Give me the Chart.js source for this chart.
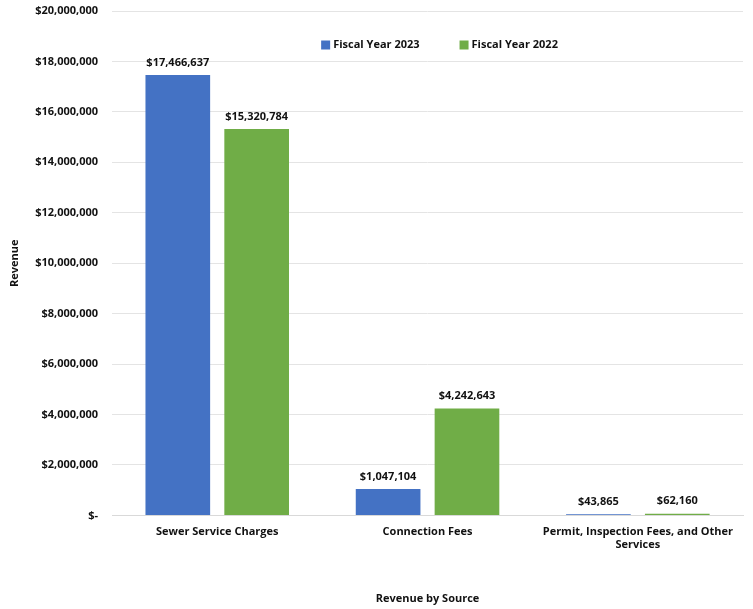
<!DOCTYPE html>
<html>
<head>
<meta charset="utf-8">
<script src="https://cdn.jsdelivr.net/npm/chart.js@4"></script>
<style>
  html, body { margin: 0; padding: 0; background: #fff; }
  #wrap { width: 753px; height: 609px; }
</style>
</head>
<body>
<div id="wrap"><canvas id="revChart"></canvas></div>
<script>
// DATA
let categories = ['Sewer Service Charges', 'Connection Fees', ['Permit, Inspection Fees, and Other', 'Services']];
let fy2023 = [17466637, 1047104, 43865];
let fy2022 = [15320784, 4242643, 62160];
let seriesLabels = ['Fiscal Year 2023', 'Fiscal Year 2022'];

let blue = '#4472C4', green = '#70AD47';
let fontFam = "'Open Sans', 'Noto Sans', sans-serif";

function money(v) {
    if (v === 0) return '$-';
    return '$' + v.toLocaleString('en-US');
}

// labels on top of bars
let barLabels = {
    id: 'barLabels',
    afterDatasetsDraw(chart) {
        let ctx = chart.ctx;
        ctx.save();
        ctx.font = 'bold 11px ' + fontFam;
        ctx.fillStyle = '#111';
        ctx.textAlign = 'center';
        ctx.textBaseline = 'bottom';
        chart.data.datasets.forEach((ds, i) => {
            chart.getDatasetMeta(i).data.forEach((bar, j) => {
                ctx.fillText(money(ds.data[j]), bar.x, bar.y - 7);
            });
        });
        ctx.restore();
    }
};

// legend drawn inside the plot, like the excel one
let innerLegend = {
    id: 'innerLegend',
    afterDraw(chart) {
        let ctx = chart.ctx;
        let area = chart.chartArea;
        ctx.save();
        ctx.font = 'bold 11px ' + fontFam;
        ctx.textBaseline = 'middle';
        let box = 9, gap = 3, itemGap = 40;
        let items = chart.data.datasets.map(ds => ({
            text: ds.label, color: ds.backgroundColor, w: ctx.measureText(ds.label).width
        }));
        let total = items.reduce((s, it) => s + box + gap + it.w, 0) + itemGap * (items.length - 1);
        let x = (area.left + area.right) / 2 + 12 - total / 2;
        let y = area.top + 34;
        items.forEach(it => {
            ctx.fillStyle = it.color;
            ctx.fillRect(x, y - box / 2, box, box);
            ctx.fillStyle = '#111';
            ctx.fillText(it.text, x + box + gap, y);
            x += box + gap + it.w + itemGap;
        });
        ctx.restore();
    }
};

let ctx = document.getElementById('revChart').getContext('2d');
let revChart = new Chart(ctx, {
    type: 'bar',
    data: {
        labels: categories,
        datasets: [{
            label: seriesLabels[0],
            data: fy2023,
            backgroundColor: blue,
            categoryPercentage: 0.75,
            barPercentage: 0.82
        }, {
            label: seriesLabels[1],
            data: fy2022,
            backgroundColor: green,
            categoryPercentage: 0.75,
            barPercentage: 0.82
        }]
    },
    options: {
        responsive: true,
        maintainAspectRatio: false,
        animation: false,
        layout: { padding: { left: 8, right: 10, top: 11, bottom: 4 } },
        plugins: {
            legend: { display: false },
            tooltip: { enabled: false }
        },
        scales: {
            x: {
                grid: { display: false },
                border: { color: '#d9d9d9' },
                ticks: {
                    color: '#111',
                    maxRotation: 0,
                    autoSkip: false,
                    padding: 2,
                    font: { family: fontFam, size: 11, weight: 'bold' }
                },
                title: {
                    display: true,
                    text: 'Revenue by Source',
                    color: '#111',
                    padding: { top: 38, bottom: 0 },
                    font: { family: fontFam, size: 11, weight: 'bold' }
                }
            },
            y: {
                min: 0,
                max: 20000000,
                grid: { color: '#e4e4e4', drawTicks: false },
                border: { display: false },
                afterFit: scale => { scale.paddingTop = 0; },
                ticks: {
                    stepSize: 2000000,
                    color: '#111',
                    padding: 14,
                    font: { family: fontFam, size: 11, weight: 'bold' },
                    callback: v => money(v)
                },
                title: {
                    display: true,
                    text: 'Revenue',
                    color: '#111',
                    padding: { top: 0, bottom: 0 },
                    font: { family: fontFam, size: 11, weight: 'bold' }
                }
            }
        }
    },
    plugins: [barLabels, innerLegend]
});
</script>
</body>
</html>
